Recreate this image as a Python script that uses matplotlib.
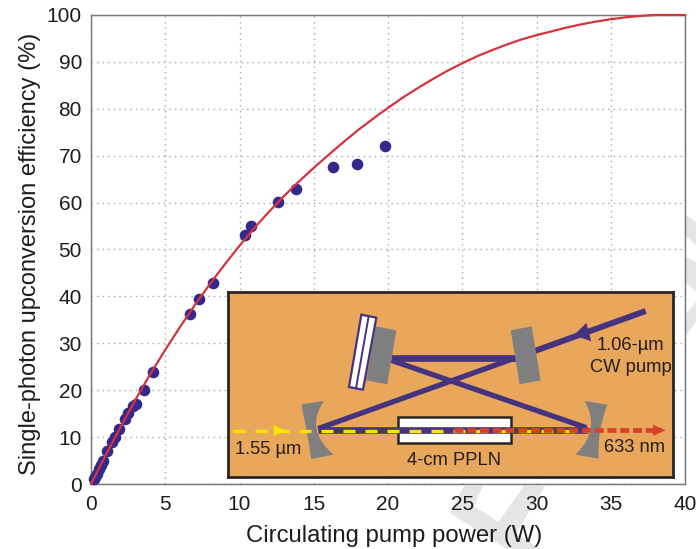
import numpy as np
import matplotlib
matplotlib.use("Agg")
import matplotlib.pyplot as plt
from matplotlib.patches import Polygon, Rectangle, PathPatch
from matplotlib.path import Path

plt.rcParams['font.family'] = ['Liberation Sans', 'DejaVu Sans']

# measured points
power = [19.8, 17.9, 16.3, 13.8, 12.6, 10.8, 10.4, 8.2, 7.3, 6.7, 4.2, 3.6, 3.0, 2.8, 2.5, 2.3,
         1.9, 1.6, 1.4, 1.1, 0.8, 0.7, 0.55, 0.4, 0.3, 0.2]
efficiency = [72, 68.2, 67.5, 63, 60.2, 55, 53, 42.8, 39.5, 36.3, 23.8, 20, 17, 16.7, 15.2, 13.8,
              11.8, 10, 9, 7, 5, 4, 3.2, 2.2, 1.5, 1]

# theory curve, one reading per watt
curve_x = list(range(41))
curve_y = [0, 6.2, 12.2, 18, 23.5, 28.6, 33.5, 38.2, 42.6, 46.8, 50.8, 54.6, 58.1, 61.4, 64.5, 67.4,
           70.2, 72.9, 75.5, 77.9, 80.2, 82.4, 84.4, 86.3, 88.1, 89.7, 91.2, 92.5, 93.7, 94.8, 95.7,
           96.5, 97.3, 98, 98.6, 99.1, 99.5, 99.8, 100, 100, 100]

x_ticks = [0, 5, 10, 15, 20, 25, 30, 35, 40]
y_ticks = [0, 10, 20, 30, 40, 50, 60, 70, 80, 90, 100]

W, H = 696, 549
PURPLE = '#46337f'
GREY = '#7f7f7f'
DARK = '#2b2522'
TEXT = '#1f1c1d'


def px_axes(fig, left, top, right, bottom, **kw):
    return fig.add_axes([left / W, 1 - bottom / H, (right - left) / W, (bottom - top) / H], **kw)


def curved(ax, pts):
    # cavity end mirrors: two straight ends, two quadratic sides
    codes = [Path.MOVETO, Path.LINETO, Path.CURVE3, Path.CURVE3, Path.LINETO, Path.CURVE3, Path.CURVE3, Path.CLOSEPOLY]
    ax.add_patch(PathPatch(Path(pts + [pts[0], pts[0]], codes), fc=GREY, ec='none', zorder=3))


fig = plt.figure(figsize=(W / 100, H / 100), dpi=100)

# faint watermark strokes behind everything, in picture pixels
bg = px_axes(fig, 0, 0, W, H)
bg.set_xlim(0, W)
bg.set_ylim(H, 0)
bg.axis('off')
bg.set_zorder(-1)
for shape in [[(685, 214), (696, 222), (696, 245), (685, 235)],
              [(685, 256), (696, 262), (696, 292), (685, 282)],
              [(685, 315), (696, 302), (696, 322), (685, 337)],
              [(464, 486), (483, 486), (474, 506), (540, 549), (507, 549), (450, 513)],
              [(524, 486), (545, 486), (515, 535), (497, 524)]]:
    bg.add_patch(Polygon(shape, fc='#e5e5e5', ec='none'))

ax = px_axes(fig, 91, 15, 685, 484)
ax.set_facecolor('none')

ax.scatter(power, efficiency, s=70, color='#33288c', lw=0, zorder=3, clip_on=False)
ax.plot(curve_x, curve_y, color='#d6333b', lw=1.6, zorder=4, clip_on=False)

ax.set_xlim(0, 40)
ax.set_ylim(0, 100)
ax.set_xticks(x_ticks)
ax.set_yticks(y_ticks)
ax.tick_params(axis='x', length=0, labelsize=15, pad=8, labelcolor=TEXT)
ax.tick_params(axis='y', length=0, labelsize=15, pad=6.5, labelcolor=TEXT)
ax.grid(True, color='#a8a8a8', ls=(0, (1, 3)), lw=1)
ax.set_axisbelow(True)
for s in ax.spines.values():
    s.set_color('#777777')
    s.set_linewidth(1)
    s.set_linestyle((0, (1, 0.6)))
ax.set_xlabel("Circulating pump power (W)", fontsize=17.2, color=TEXT, labelpad=8, x=0.51)
ax.set_ylabel("Single-photon upconversion efficiency (%)", fontsize=17, color=TEXT, labelpad=4, y=0.49)

# cavity schematic, axes in crop units
ins = px_axes(fig, 228, 292, 673, 477)
ins.set_xlim(25, 1360)
ins.set_ylim(590, 35)
ins.set_facecolor('#e9a75c')
ins.set_xticks([])
ins.set_yticks([])
ins.set_zorder(5)
for s in ins.spines.values():
    s.set_color(DARK)
    s.set_linewidth(2)

# beams
ins.plot([515, 888], [233, 233], color=PURPLE, lw=4.8, solid_capstyle='butt', zorder=2)
ins.plot([515, 1100], [240, 442], color=PURPLE, lw=3.8, solid_capstyle='butt', zorder=2)
ins.plot([295, 945], [445, 212], color=PURPLE, lw=3.8, solid_capstyle='butt', zorder=2)
ins.plot([945, 1278], [212, 92], color=PURPLE, lw=4.3, solid_capstyle='butt', zorder=2)
ins.add_patch(Polygon([(1100, 128), (1062, 165), (1115, 183)], fc=PURPLE, ec='none', zorder=2))

# flat mirrors and etalon
ins.add_patch(Polygon([(468, 138), (530, 150), (503, 312), (440, 300)], fc=GREY, ec='none', zorder=3))
ins.add_patch(Polygon([(873, 150), (936, 138), (963, 300), (900, 312)], fc=GREY, ec='none', zorder=3))
ins.add_patch(Polygon([(425, 103), (470, 112), (430, 328), (388, 320)], fc='white', ec=PURPLE, lw=1.6, zorder=4))
ins.plot([447, 409], [108, 324], color=PURPLE, lw=1.4, zorder=5)

# curved mirrors
curved(ins, [(245, 372), (313, 362), (253, 448), (342, 523), (275, 536), (262, 450)])
curved(ins, [(1095, 362), (1163, 373), (1132, 450), (1137, 535), (1067, 523), (1145, 448)])

# crystal
ins.add_patch(Rectangle((535, 411), 340, 77, fc='white', ec=DARK, lw=1.8, zorder=1))
ins.plot([295, 1105], [448, 448], color=PURPLE, lw=4.8, solid_capstyle='butt', zorder=2)

# signal and upconverted beams
ins.plot([40, 1110], [451, 451], color='#fce300', lw=2.4, ls=(0, (3.6, 3)), zorder=6)
ins.add_patch(Polygon([(162, 433), (197, 451), (162, 467)], fc='#fce300', ec='none', zorder=6))
ins.plot([703, 1305], [449, 449], color='#d8402c', lw=3.4, ls=(0, (1.9, 0.8)), zorder=7)
ins.add_patch(Polygon([(1300, 433), (1338, 450), (1300, 467)], fc='#d8402c', ec='none', zorder=7))

txt = dict(fontsize=13.2, color='#231f20', zorder=8)
ins.text(147, 507, "1.55 µm", ha='center', va='center', **txt)
ins.text(703, 541, "4-cm PPLN", ha='center', va='center', **txt)
ins.text(1246, 501, "633 nm", ha='center', va='center', **txt)
ins.text(1233, 195, "1.06-µm", ha='center', va='center', **txt)
ins.text(1233, 262, "CW pump", ha='center', va='center', **txt)

plt.savefig("out.png", dpi=100)
